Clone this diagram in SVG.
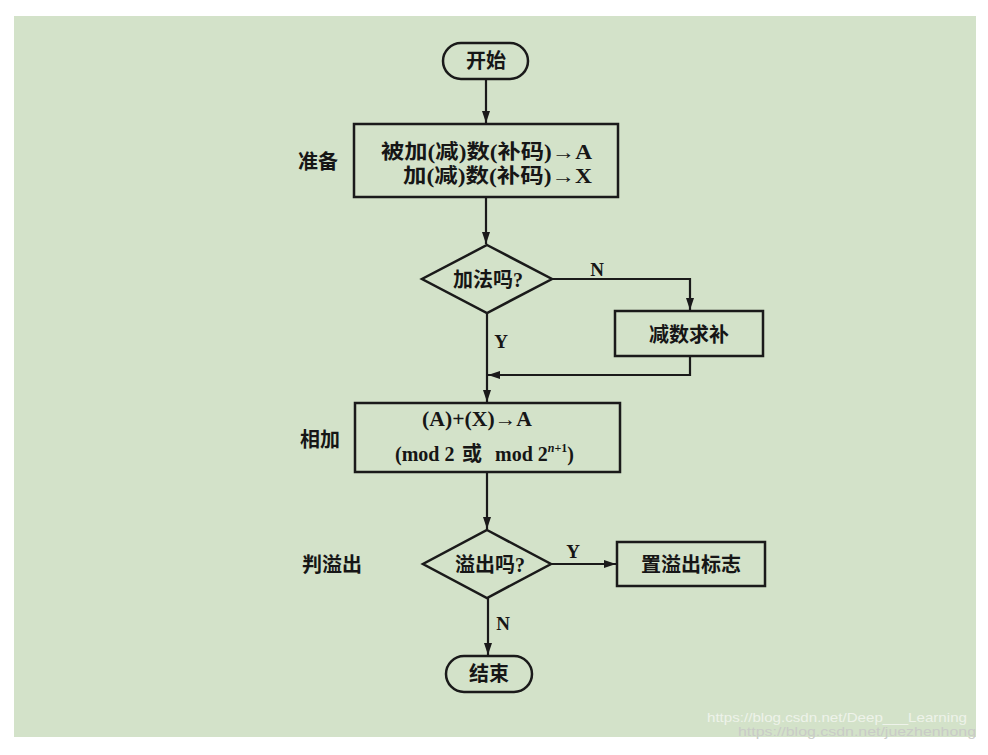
<svg xmlns="http://www.w3.org/2000/svg" width="988" height="755" viewBox="0 0 988 755">
<style>
.shape{fill:none;stroke:#1a1a1a;stroke-width:2.5;}
.conn{fill:none;stroke:#1a1a1a;stroke-width:2.2;}
.t{font-family:"Liberation Serif","Noto Sans CJK SC",serif;font-size:20px;font-weight:bold;fill:#161616;}
.lab{font-family:"Noto Sans CJK SC",sans-serif;font-size:20px;font-weight:bold;fill:#161616;}
.yn{font-family:"Liberation Serif",serif;font-size:19px;font-weight:bold;fill:#161616;}
.wm{font-family:"Liberation Sans","DejaVu Sans",sans-serif;font-size:13px;}
</style>
<defs>
<marker id="arr" markerWidth="13" markerHeight="8" refX="12" refY="4" orient="auto" markerUnits="userSpaceOnUse">
<path d="M0,0 L12,4 L0,8 Z" fill="#1a1a1a"/>
</marker>
</defs>
<rect x="0" y="0" width="988" height="755" fill="#ffffff"/>
<rect x="14" y="16" width="962" height="721" fill="#d3e2c9"/>

<g id="connectors">
<line class="conn" x1="486" y1="79" x2="486" y2="123" marker-end="url(#arr)"/>
<line class="conn" x1="486" y1="197" x2="486" y2="244" marker-end="url(#arr)"/>
<polyline class="conn" points="552,279 690,279 690,310" marker-end="url(#arr)"/>
<polyline class="conn" points="690,356 690,375 488,375" marker-end="url(#arr)"/>
<line class="conn" x1="487" y1="313" x2="487" y2="402" marker-end="url(#arr)"/>
<line class="conn" x1="487" y1="472" x2="487" y2="529" marker-end="url(#arr)"/>
<line class="conn" x1="551" y1="564" x2="616" y2="564" marker-end="url(#arr)"/>
<line class="conn" x1="488" y1="598" x2="488" y2="655" marker-end="url(#arr)"/>
<text class="yn" x="597" y="276" text-anchor="middle">N</text>
<text class="yn" x="501" y="348" text-anchor="middle">Y</text>
<text class="yn" x="573" y="558" text-anchor="middle">Y</text>
<text class="yn" x="503" y="630" text-anchor="middle">N</text>
</g>

<g id="start">
<rect class="shape" x="443" y="43" width="85" height="36" rx="18"/>
<text class="t" x="486" y="68" text-anchor="middle">开始</text>
</g>

<g id="prepare">
<rect class="shape" x="354" y="124" width="264" height="73"/>
<text class="t" x="381" y="159" textLength="211" lengthAdjust="spacingAndGlyphs">被加(减)数(补码)→A</text>
<text class="t" x="403" y="183" textLength="189" lengthAdjust="spacingAndGlyphs">加(减)数(补码)→X</text>
</g>
<g id="label-prepare"><text class="lab" x="318" y="169" text-anchor="middle">准备</text></g>

<g id="is-add">
<polygon class="shape" points="487,245 552,279 487,313 422,279"/>
<text class="t" x="488" y="287" text-anchor="middle">加法吗?</text>
</g>

<g id="complement">
<rect class="shape" x="615" y="311" width="148" height="45"/>
<text class="t" x="689" y="342" text-anchor="middle" font-size="21">减数求补</text>
</g>

<g id="add">
<rect class="shape" x="355" y="403" width="265" height="69"/>
<text class="t" x="422" y="426" textLength="110" lengthAdjust="spacingAndGlyphs">(A)+(X)→A</text>
<text class="t" y="461"><tspan x="395">(mod 2</tspan><tspan x="462">或</tspan><tspan x="495">mod 2</tspan><tspan font-size="12" dy="-9" font-style="italic">n</tspan><tspan font-size="12">+1</tspan><tspan dy="9">)</tspan></text>
</g>
<g id="label-add"><text class="lab" x="320" y="447" text-anchor="middle">相加</text></g>

<g id="overflow">
<polygon class="shape" points="487,530 551,564 487,598 423,564"/>
<text class="t" x="490" y="572" text-anchor="middle">溢出吗?</text>
</g>
<g id="label-overflow"><text class="lab" x="332" y="572" text-anchor="middle">判溢出</text></g>

<g id="set-flag">
<rect class="shape" x="617" y="542" width="148" height="44"/>
<text class="t" x="691" y="572" text-anchor="middle" font-size="21">置溢出标志</text>
</g>

<g id="end">
<rect class="shape" x="446" y="656" width="86" height="36" rx="18"/>
<text class="t" x="489" y="681" text-anchor="middle">结束</text>
</g>

<g id="watermark">
<text class="wm" x="707" y="722" fill="#eef3ea" textLength="260" lengthAdjust="spacingAndGlyphs">https://blog.csdn.net/Deep___Learning</text>
<text class="wm" x="738" y="736" fill="#c9cbc7" textLength="238" lengthAdjust="spacingAndGlyphs">https://blog.csdn.net/juezhenhong</text>
</g>
</svg>
